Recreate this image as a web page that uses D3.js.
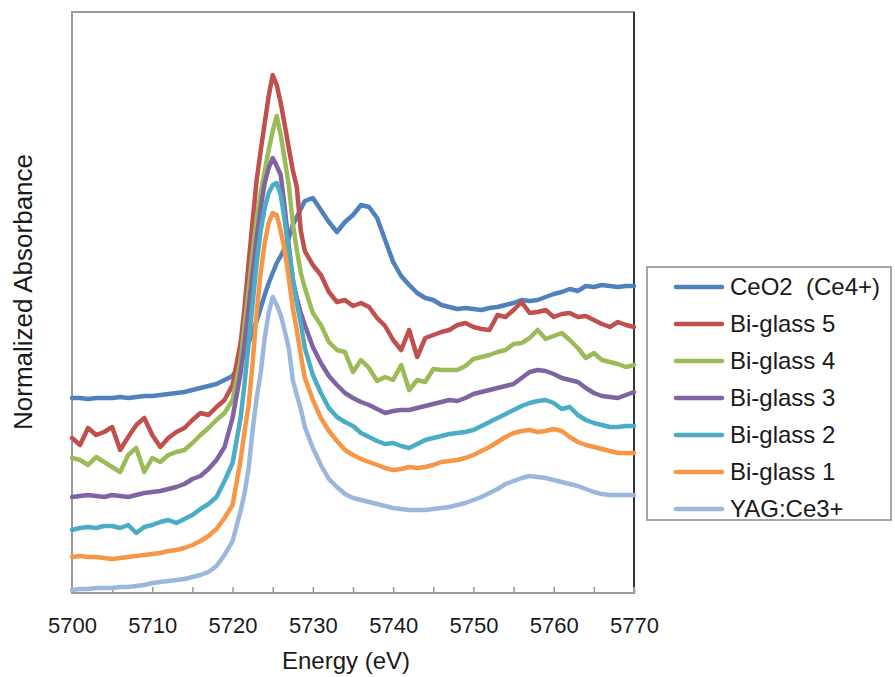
<!DOCTYPE html>
<html>
<head>
<meta charset="utf-8">
<script src="https://cdn.jsdelivr.net/npm/d3@7"></script>
<style>
  body { margin: 0; background: #fff; }
  text { font-family: "Liberation Sans", Arial, sans-serif; fill: #1a1a1a; }
</style>
</head>
<body>
<div id="container"></div>
<script>
// energies (eV) - finer steps around the white line
const energy = [
  5700,5701,5702,5703,5704,5705,5706,5707,5708,5709,5710,5711,5712,5713,5714,5715,5716,5717,5718,5719,5720,5721,
  5721.5,5722,5722.5,5723,5723.5,5724,5724.5,5725,5725.5,5726,5726.5,5727,5727.5,5728,5728.5,5729,
  5730,5731,5732,5733,5734,5735,5736,5737,5738,5739,5740,5741,5742,5743,5744,5745,5746,5747,5748,5749,
  5750,5751,5752,5753,5754,5755,5756,5757,5758,5759,5760,5761,5762,5763,5764,5765,5766,5767,5768,5769,5770
]

const ceo2 = [
  1.95,1.95,1.94,1.95,1.95,1.95,1.96,1.95,1.96,1.97,1.97,1.98,1.99,2.00,2.01,2.03,2.05,2.07,2.09,2.13,2.17,2.30,
  2.40,2.50,2.61,2.72,2.85,2.98,3.10,3.20,3.30,3.37,3.45,3.55,3.68,3.76,3.84,3.92,
  3.95,3.83,3.71,3.61,3.71,3.78,3.88,3.86,3.75,3.53,3.31,3.17,3.08,3.00,2.95,2.93,2.88,2.86,2.84,2.85,
  2.84,2.83,2.85,2.86,2.88,2.90,2.93,2.92,2.93,2.96,2.99,3.01,3.04,3.02,3.07,3.06,3.08,3.07,3.06,3.07,3.07
]
const bi5 = [
  1.55,1.48,1.65,1.58,1.61,1.66,1.43,1.56,1.68,1.75,1.58,1.46,1.55,1.61,1.65,1.73,1.80,1.78,1.86,1.93,2.08,2.50,
  2.86,3.30,3.72,4.13,4.42,4.70,4.97,5.18,5.08,4.90,4.68,4.45,4.23,4.06,3.62,3.42,
  3.28,3.18,3.01,2.91,2.93,2.87,2.90,2.86,2.75,2.67,2.53,2.43,2.63,2.36,2.55,2.58,2.61,2.63,2.68,2.70,
  2.66,2.64,2.63,2.78,2.76,2.83,2.91,2.80,2.81,2.83,2.76,2.79,2.80,2.76,2.77,2.73,2.69,2.66,2.71,2.68,2.66
]
const bi4 = [
  1.35,1.33,1.28,1.36,1.31,1.26,1.21,1.38,1.45,1.21,1.35,1.31,1.38,1.41,1.43,1.50,1.58,1.65,1.73,1.80,1.93,2.33,
  2.68,3.03,3.40,3.75,4.00,4.22,4.43,4.62,4.77,4.58,4.33,4.08,3.70,3.43,3.20,3.05,
  2.80,2.68,2.51,2.43,2.41,2.21,2.33,2.25,2.12,2.16,2.13,2.28,2.03,2.13,2.11,2.24,2.23,2.23,2.23,2.27,
  2.34,2.36,2.38,2.41,2.43,2.49,2.50,2.55,2.63,2.54,2.57,2.60,2.53,2.45,2.35,2.40,2.33,2.31,2.29,2.26,2.28
]
const bi3 = [
  0.96,0.97,0.98,0.97,0.96,0.98,0.97,0.96,0.98,1.00,1.01,1.02,1.04,1.06,1.09,1.14,1.17,1.24,1.33,1.46,1.75,2.20,
  2.50,2.85,3.20,3.55,3.85,4.10,4.25,4.35,4.27,4.18,3.85,3.48,3.13,2.95,2.80,2.68,
  2.46,2.30,2.17,2.08,2.00,1.95,1.91,1.88,1.84,1.80,1.82,1.83,1.83,1.85,1.87,1.89,1.91,1.93,1.92,1.95,
  1.99,2.01,2.03,2.05,2.07,2.09,2.15,2.21,2.23,2.22,2.19,2.15,2.13,2.11,2.05,2.00,1.97,1.96,1.95,1.98,2.01
]
const bi2 = [
  0.63,0.65,0.66,0.65,0.67,0.67,0.65,0.68,0.60,0.66,0.68,0.71,0.73,0.70,0.74,0.78,0.84,0.89,0.96,1.12,1.30,1.75,
  2.10,2.50,2.90,3.30,3.62,3.85,4.00,4.08,4.10,3.98,3.72,3.42,3.15,2.90,2.70,2.45,
  2.18,2.00,1.85,1.76,1.71,1.67,1.60,1.56,1.52,1.49,1.50,1.47,1.45,1.49,1.53,1.55,1.57,1.59,1.60,1.61,
  1.63,1.67,1.71,1.75,1.79,1.83,1.87,1.90,1.92,1.93,1.90,1.84,1.86,1.78,1.73,1.70,1.68,1.66,1.66,1.67,1.67
]
const bi1 = [
  0.36,0.37,0.36,0.36,0.35,0.34,0.35,0.36,0.37,0.38,0.39,0.40,0.42,0.43,0.45,0.48,0.52,0.57,0.64,0.75,0.88,1.33,
  1.62,1.88,2.30,2.80,3.20,3.50,3.70,3.80,3.78,3.62,3.42,3.15,2.85,2.63,2.38,2.15,
  1.93,1.75,1.62,1.52,1.43,1.38,1.34,1.31,1.28,1.25,1.23,1.24,1.26,1.25,1.26,1.28,1.31,1.32,1.33,1.35,
  1.38,1.42,1.46,1.51,1.56,1.60,1.62,1.63,1.61,1.62,1.64,1.62,1.56,1.51,1.48,1.46,1.44,1.42,1.40,1.40,1.40
]
const yag = [
  0.03,0.04,0.04,0.05,0.05,0.05,0.06,0.06,0.07,0.08,0.10,0.11,0.12,0.13,0.14,0.16,0.18,0.21,0.27,0.38,0.52,0.82,
  1.00,1.25,1.63,1.95,2.20,2.55,2.80,2.96,2.88,2.78,2.62,2.45,2.13,1.98,1.84,1.66,
  1.45,1.28,1.14,1.06,0.99,0.95,0.93,0.91,0.89,0.87,0.85,0.84,0.83,0.83,0.83,0.84,0.85,0.86,0.88,0.90,
  0.93,0.96,1.00,1.04,1.09,1.12,1.15,1.17,1.16,1.15,1.13,1.11,1.09,1.07,1.04,1.01,0.99,0.98,0.98,0.98,0.98
]

const names = ["CeO2  (Ce4+)", "Bi-glass 5", "Bi-glass 4", "Bi-glass 3", "Bi-glass 2", "Bi-glass 1", "YAG:Ce3+"]
const colors = ["#4f81bd", "#c0504d", "#9bbb59", "#8064a2", "#4bacc6", "#f79646", "#9bb7dc"]
const values = [ceo2, bi5, bi4, bi3, bi2, bi1, yag]
const xTicks = [5700,5705,5710,5715,5720,5725,5730,5735,5740,5745,5750,5755,5760,5765,5770]

let w = 895, h = 677
let m = {left: 72, right: 634, top: 12, bottom: 593}

let svg = d3.select("#container").append("svg")
    .attr("width", w)
    .attr("height", h)

let x = d3.scaleLinear().domain([5700, 5770]).range([m.left, m.right])
let y = d3.scaleLinear().domain([0, 5.81]).range([m.bottom, m.top])

// frame
svg.append("rect")
    .attr("x", m.left).attr("y", m.top)
    .attr("width", m.right - m.left).attr("height", m.bottom - m.top)
    .attr("fill", "none")
    .attr("stroke", "#9a9a9a")
    .attr("stroke-width", 2)
svg.append("line")
    .attr("x1", m.right).attr("x2", m.right)
    .attr("y1", m.top).attr("y2", m.bottom - 6)
    .attr("stroke", "#333")
    .attr("stroke-width", 2)

// x axis
let xAxis = svg.append("g")
    .attr("transform", `translate(0, ${m.bottom})`)
    .call(d3.axisBottom(x)
        .tickValues(xTicks)
        .tickSize(-6)
        .tickPadding(24)
        .tickFormat(d => d % 10 === 0 ? d : ""))
xAxis.select(".domain").remove()
xAxis.selectAll(".tick line").attr("stroke", "#9a9a9a").attr("stroke-width", 1.5)
xAxis.selectAll(".tick text")
    .attr("font-size", 22)
    .attr("font-family", "Liberation Sans, Arial, sans-serif")
    .attr("fill", "#1a1a1a")

// series
let line = d3.line()
    .x((d, i) => x(energy[i]))
    .y(d => y(d))

values.forEach((v, k) => {
    svg.append("path")
        .datum(v)
        .attr("d", line)
        .attr("fill", "none")
        .attr("stroke", colors[k])
        .attr("stroke-width", 4.5)
        .attr("stroke-linejoin", "round")
        .attr("stroke-linecap", "round")
})

// axis titles
svg.append("text")
    .text("Energy (eV)")
    .attr("x", 346)
    .attr("y", 669)
    .attr("text-anchor", "middle")
    .attr("font-size", 24)

svg.append("text")
    .text("Normalized Absorbance")
    .attr("transform", "translate(32, 292) rotate(-90)")
    .attr("text-anchor", "middle")
    .attr("font-size", 26)

// legend
let lg = svg.append("g")
lg.append("rect")
    .attr("x", 647).attr("y", 267)
    .attr("width", 244).attr("height", 253)
    .attr("fill", "#fff")
    .attr("stroke", "#8a8a8a")
    .attr("stroke-width", 1.5)

names.forEach((n, i) => {
    let ly = 287 + i * 37
    lg.append("line")
        .attr("x1", 676).attr("x2", 722)
        .attr("y1", ly).attr("y2", ly)
        .attr("stroke", colors[i])
        .attr("stroke-width", 4.5)
        .attr("stroke-linecap", "round")
    lg.append("text")
        .text(n)
        .attr("x", 730)
        .attr("y", ly + 8)
        .attr("font-size", 24)
        .style("white-space", "pre")
})
</script>
</body>
</html>
